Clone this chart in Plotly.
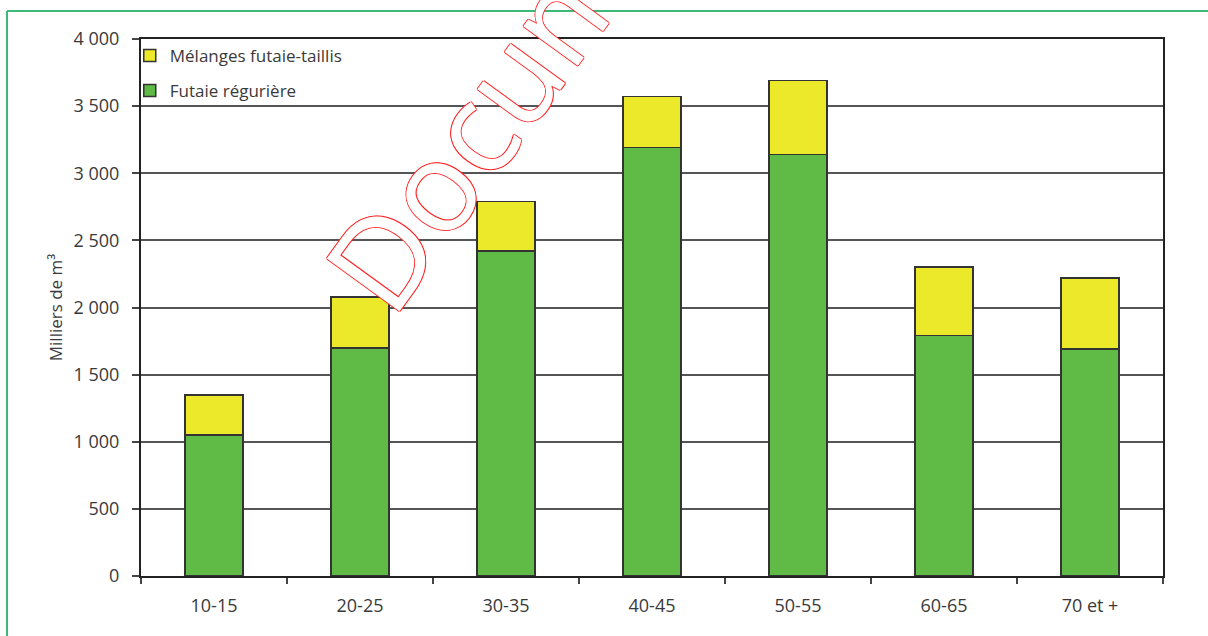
import plotly.graph_objects as go

# Age classes and volumes (thousands of m3)
categories = ["10-15", "20-25", "30-35", "40-45", "50-55", "60-65", "70 et +"]
futaie_reguliere = [1050, 1700, 2420, 3190, 3140, 1790, 1690]
melanges = [300, 380, 370, 380, 550, 510, 530]  # stacked on top of futaie
y_ticks = [0, 500, 1000, 1500, 2000, 2500, 3000, 3500, 4000]

FONT = "Open Sans"
TXT = "#3a3a3a"
GREEN = "#60ba46"
YELLOW = "#ece82a"
EDGE = "#333333"

fig = go.Figure()
fig.add_trace(go.Bar(
    x=categories, y=futaie_reguliere, name="Futaie régurière",
    marker=dict(color=GREEN, line=dict(color=EDGE, width=1.5)),
    legendgroup="a", legendrank=2,
))
fig.add_trace(go.Bar(
    x=categories, y=melanges, name="Mélanges futaie-taillis",
    marker=dict(color=YELLOW, line=dict(color=EDGE, width=1.5)),
    legendgroup="b", legendrank=1,
))

# frame around the figure (left and top edges)
fig.add_shape(type="line", xref="paper", yref="paper",
              x0=-0.1311, x1=-0.1311, y0=1.0521, y1=-0.3,
              line=dict(color="#3cb878", width=2), layer="above")
fig.add_shape(type="line", xref="paper", yref="paper",
              x0=-0.1311, x1=1.2, y0=1.0521, y1=1.0521,
              line=dict(color="#3cb878", width=2), layer="above")

# watermark
sh = "#ff2020"
fig.add_annotation(
    text="Document", xref="paper", yref="paper", x=0.3836, y=0.991,
    xanchor="center", yanchor="middle",
    showarrow=False, textangle=-54,
    font=dict(family=FONT, size=126, color="white",
              shadow=f"1px 0 0 {sh}, -1px 0 0 {sh}, 0 1px 0 {sh}, 0 -1px 0 {sh}"),
)

fig.update_layout(
    width=1208, height=636,
    margin=dict(l=141, r=45, t=39, b=60),
    barmode="stack", bargap=0.6,
    plot_bgcolor="white", paper_bgcolor="white",
    separators=", ",
    font=dict(family=FONT, size=16, color=TXT),
    showlegend=True,
    legend=dict(x=-0.011, y=1.002, xanchor="left", yanchor="top",
                traceorder="grouped", tracegroupgap=10,
                bgcolor="rgba(0,0,0,0)", font=dict(size=17, color=TXT),
                itemwidth=30),
    xaxis=dict(showline=True, linecolor="#222", linewidth=2, mirror=True,
               ticks="outside", tickson="boundaries", ticklen=6,
               tickcolor="#444", tickwidth=1.5, ticklabelstandoff=12,
               tickfont=dict(size=18, color=TXT)),
    yaxis=dict(range=[0, 4000], tickvals=y_ticks, tickformat=",d",
               showline=True, linecolor="#222", linewidth=2, mirror=True,
               showgrid=True, gridcolor="#555", gridwidth=1.5,
               ticks="outside", ticklen=7, tickcolor="#444", tickwidth=1.5,
               ticklabelstandoff=9, tickfont=dict(size=18, color=TXT),
               title=dict(text="Milliers de m³", font=dict(size=17, color=TXT),
                          standoff=7)),
)

fig.write_html("out.html")
